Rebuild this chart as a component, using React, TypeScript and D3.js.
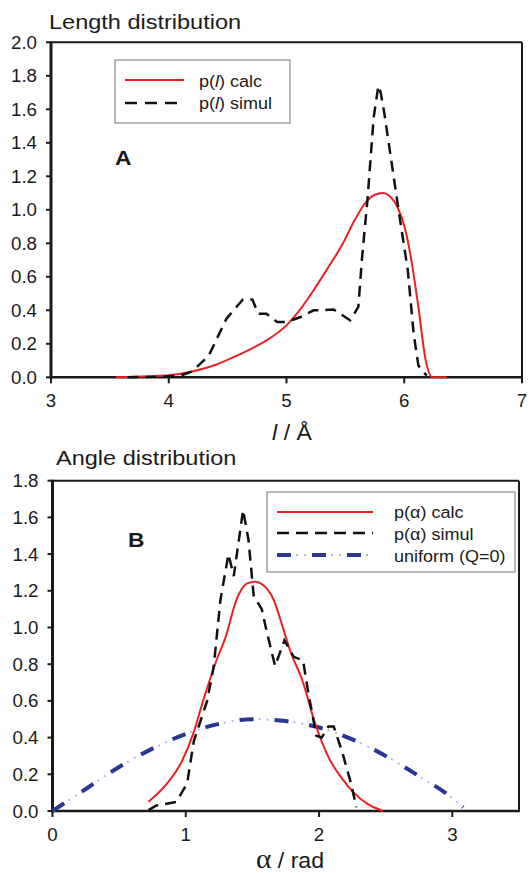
import React, { useRef, useEffect } from 'react';
import * as d3 from 'd3';

// panel A: length distribution
const lenCalcX = [3.55, 3.7, 3.85, 4.0, 4.2, 4.4, 4.55, 4.7, 4.83, 5.0, 5.1, 5.23, 5.34, 5.48, 5.58, 5.68, 5.75, 5.82, 5.88, 5.94, 6.01, 6.06, 6.12, 6.18, 6.24, 6.3, 6.36];
const lenCalcY = [0, 0.003, 0.007, 0.012, 0.035, 0.075, 0.12, 0.17, 0.22, 0.31, 0.39, 0.52, 0.64, 0.8, 0.94, 1.05, 1.09, 1.1, 1.08, 1.02, 0.88, 0.7, 0.42, 0.11, 0, 0, 0];
const lenSimX = [3.65, 3.9, 4.1, 4.2, 4.34, 4.49, 4.63, 4.71, 4.76, 4.83, 4.92, 5.0, 5.12, 5.23, 5.31, 5.4, 5.54, 5.61, 5.64, 5.69, 5.74, 5.78, 5.8, 5.83, 5.96, 6.03, 6.08, 6.12, 6.19];
const lenSimY = [0, 0.003, 0.01, 0.035, 0.13, 0.35, 0.465, 0.465, 0.38, 0.38, 0.33, 0.33, 0.36, 0.4, 0.4, 0.405, 0.34, 0.42, 0.7, 1.08, 1.55, 1.74, 1.7, 1.58, 0.96, 0.64, 0.26, 0.07, 0.01];

// panel B: angle distribution
const angCalcX = [0.72, 0.86, 0.97, 1.06, 1.13, 1.23, 1.3, 1.38, 1.46, 1.52, 1.61, 1.66, 1.72, 1.78, 1.88, 1.96, 2.08, 2.18, 2.26, 2.36, 2.48];
const angCalcY = [0.05, 0.15, 0.27, 0.43, 0.6, 0.82, 0.95, 1.15, 1.24, 1.25, 1.21, 1.15, 1.02, 0.88, 0.7, 0.5, 0.28, 0.17, 0.1, 0.04, 0];
const angSimX = [0.72, 0.78, 0.93, 1.01, 1.06, 1.16, 1.21, 1.26, 1.32, 1.36, 1.43, 1.47, 1.51, 1.57, 1.61, 1.67, 1.74, 1.81, 1.88, 1.92, 1.98, 2.02, 2.07, 2.11, 2.17, 2.24, 2.28];
const angSimY = [0.005, 0.03, 0.05, 0.15, 0.38, 0.6, 0.79, 1.15, 1.4, 1.28, 1.64, 1.48, 1.17, 1.1, 0.97, 0.79, 0.93, 0.84, 0.82, 0.64, 0.41, 0.4, 0.46, 0.46, 0.33, 0.15, 0.02];
const uniX = [0, 0.25, 0.5, 0.75, 1.0, 1.25, 1.5, 1.75, 2.0, 2.25, 2.5, 2.75, 3.0, 3.08];
const uniY = [0, 0.12, 0.24, 0.34, 0.42, 0.475, 0.5, 0.49, 0.455, 0.39, 0.3, 0.19, 0.07, 0.02];

const lenXTicks = [3, 4, 5, 6, 7];
const lenYTicks = [0, 0.2, 0.4, 0.6, 0.8, 1.0, 1.2, 1.4, 1.6, 1.8, 2.0];
const angXTicks = [0, 1, 2, 3];
const angYTicks = [0, 0.2, 0.4, 0.6, 0.8, 1.0, 1.2, 1.4, 1.6, 1.8];

const FONT = 'Liberation Sans, Arial, Helvetica, sans-serif';
const INK = '#1a1a1a';
const RED = '#ee2024';
const BLUE = '#2b3592';
const DOTS = '#b4b8e6';

const zip = (xs, ys) => xs.map((x, i) => [x, ys[i]]);

// text with a slight horizontal stretch, like the original figure
const addText = (g, x, y, str, size, opts = {}) => {
  const t = g.append('text')
    .attr('transform', `translate(${x},${y}) scale(${opts.sx || 1},1)`)
    .attr('font-family', opts.family || FONT)
    .attr('font-size', size)
    .attr('font-weight', opts.weight || 'normal')
    .attr('text-anchor', opts.anchor || 'start')
    .attr('fill', INK);
  if (str != null) t.text(str);
  return t;
};

const drawFrame = (svg, x, y, xTicks, yTicks) => {
  const [x0, x1] = x.range();
  const [y0, y1] = y.range();
  const g = svg.append('g');

  g.append('line').attr('x1', x0).attr('x2', x1).attr('y1', y1).attr('y2', y1)
    .attr('stroke', INK).attr('stroke-width', 2);
  g.append('line').attr('x1', x1).attr('x2', x1).attr('y1', y1).attr('y2', y0)
    .attr('stroke', INK).attr('stroke-width', 2);

  // y ticks
  yTicks.forEach(v => {
    g.append('line').attr('x1', x0 - 5).attr('x2', x0).attr('y1', y(v)).attr('y2', y(v))
      .attr('stroke', INK).attr('stroke-width', 2);
    addText(g, x0 - 14, y(v) + 6.5, d3.format('.1f')(v), 18, { anchor: 'end', sx: 1.04 });
  });
  // x ticks
  xTicks.forEach(v => {
    g.append('line').attr('x1', x(v)).attr('x2', x(v)).attr('y1', y0).attr('y2', y0 + 6)
      .attr('stroke', INK).attr('stroke-width', 2);
    addText(g, x(v), y0 + 30, String(v), 18, { anchor: 'middle', sx: 1.04 });
  });

  g.append('line').attr('x1', x0).attr('x2', x0).attr('y1', y1 - 1).attr('y2', y0 + 1.5)
    .attr('stroke', INK).attr('stroke-width', 3);
  g.append('line').attr('x1', x0).attr('x2', x1 + 1).attr('y1', y0).attr('y2', y0)
    .attr('stroke', INK).attr('stroke-width', 2.5);
  return g;
};

const App = () => {
  const svgRef = useRef();

  useEffect(() => {
    const svg = d3.select(svgRef.current);
    svg.selectAll('*').remove();

    // ---------- panel A ----------
    const xA = d3.scaleLinear().domain([3, 7]).range([51, 522]);
    const yA = d3.scaleLinear().domain([0, 2]).range([377.3, 42.3]);
    const lineA = d3.line().x(d => xA(d[0])).y(d => yA(d[1]));

    addText(svg, 49, 29, 'Length distribution', 21, { sx: 1.12 });
    drawFrame(svg, xA, yA, lenXTicks, lenYTicks);

    svg.append('path').attr('d', lineA.curve(d3.curveMonotoneX)(zip(lenCalcX, lenCalcY)))
      .attr('fill', 'none').attr('stroke', RED).attr('stroke-width', 2);
    svg.append('path').attr('d', lineA.curve(d3.curveLinear)(zip(lenSimX, lenSimY)))
      .attr('fill', 'none').attr('stroke', '#111').attr('stroke-width', 2.5)
      .attr('stroke-dasharray', '11 7');

    // legend A
    const legA = svg.append('g');
    legA.append('rect').attr('x', 115).attr('y', 60).attr('width', 175).attr('height', 63)
      .attr('fill', 'white').attr('stroke', '#777').attr('stroke-width', 1);
    legA.append('line').attr('x1', 125).attr('x2', 184).attr('y1', 80).attr('y2', 80)
      .attr('stroke', RED).attr('stroke-width', 2);
    legA.append('line').attr('x1', 125).attr('x2', 184).attr('y1', 103).attr('y2', 103)
      .attr('stroke', '#111').attr('stroke-width', 2.5).attr('stroke-dasharray', '12 8');
    [['calc', 87], ['simul', 109]].forEach(([lab, yy]) => {
      const t = addText(legA, 199, yy, null, 17, { sx: 1.06 });
      t.append('tspan').text('p(');
      t.append('tspan').attr('font-style', 'italic').text('l');
      t.append('tspan').text(') ' + lab);
    });
    addText(svg, 115, 165, 'A', 20, { weight: 'bold', sx: 1.14 });

    const xlabA = addText(svg, 292, 440, null, 22, { anchor: 'middle', sx: 1.05 });
    xlabA.append('tspan').attr('font-style', 'italic').text('l');
    xlabA.append('tspan').text(' / Å');

    // ---------- panel B ----------
    const xB = d3.scaleLinear().domain([0, 3.5]).range([52.5, 519]);
    const yB = d3.scaleLinear().domain([0, 1.8]).range([811, 480.7]);
    const lineB = d3.line().x(d => xB(d[0])).y(d => yB(d[1]));

    addText(svg, 56, 465, 'Angle distribution', 21, { sx: 1.12 });
    drawFrame(svg, xB, yB, angXTicks, angYTicks);

    const uniPath = lineB.curve(d3.curveMonotoneX)(zip(uniX, uniY));
    svg.append('path').attr('d', uniPath)
      .attr('fill', 'none').attr('stroke', DOTS).attr('stroke-width', 2)
      .attr('stroke-dasharray', '0 19 2 6 2 6');
    svg.append('path').attr('d', uniPath)
      .attr('fill', 'none').attr('stroke', BLUE).attr('stroke-width', 4)
      .attr('stroke-dasharray', '14 21');
    svg.append('path').attr('d', lineB.curve(d3.curveMonotoneX)(zip(angCalcX, angCalcY)))
      .attr('fill', 'none').attr('stroke', RED).attr('stroke-width', 2);
    svg.append('path').attr('d', lineB.curve(d3.curveLinear)(zip(angSimX, angSimY)))
      .attr('fill', 'none').attr('stroke', '#111').attr('stroke-width', 2.5)
      .attr('stroke-dasharray', '11 7');

    // legend B
    const legB = svg.append('g');
    legB.append('rect').attr('x', 267).attr('y', 492).attr('width', 248).attr('height', 80)
      .attr('fill', 'white').attr('stroke', '#777').attr('stroke-width', 1);
    legB.append('line').attr('x1', 277).attr('x2', 373).attr('y1', 512).attr('y2', 512)
      .attr('stroke', RED).attr('stroke-width', 2);
    legB.append('line').attr('x1', 277).attr('x2', 373).attr('y1', 533).attr('y2', 533)
      .attr('stroke', '#111').attr('stroke-width', 2.5).attr('stroke-dasharray', '12 7');
    legB.append('line').attr('x1', 277).attr('x2', 373).attr('y1', 555).attr('y2', 555)
      .attr('stroke', DOTS).attr('stroke-width', 2).attr('stroke-dasharray', '0 19 2 6 2 6');
    legB.append('line').attr('x1', 277).attr('x2', 373).attr('y1', 555).attr('y2', 555)
      .attr('stroke', BLUE).attr('stroke-width', 4).attr('stroke-dasharray', '14 21');
    addText(legB, 394, 518, 'p(α) calc', 17, { sx: 1.06 });
    addText(legB, 394, 540, 'p(α) simul', 17, { sx: 1.06 });
    addText(legB, 394, 562, 'uniform (Q=0)', 17, { sx: 1.06 });
    addText(svg, 128, 547, 'B', 20, { weight: 'bold', sx: 1.14 });

    const xlabB = addText(svg, 290, 868, null, 22, { anchor: 'middle', sx: 1.05 });
    xlabB.append('tspan').attr('font-family', 'Liberation Serif, serif').attr('font-size', 28).text('α');
    xlabB.append('tspan').text(' / rad');
  }, []);

  return (
    <svg ref={svgRef} width={530} height={873}
      style={{ position: 'absolute', left: 0, top: 0, background: 'white' }} />
  );
};

export default App;
